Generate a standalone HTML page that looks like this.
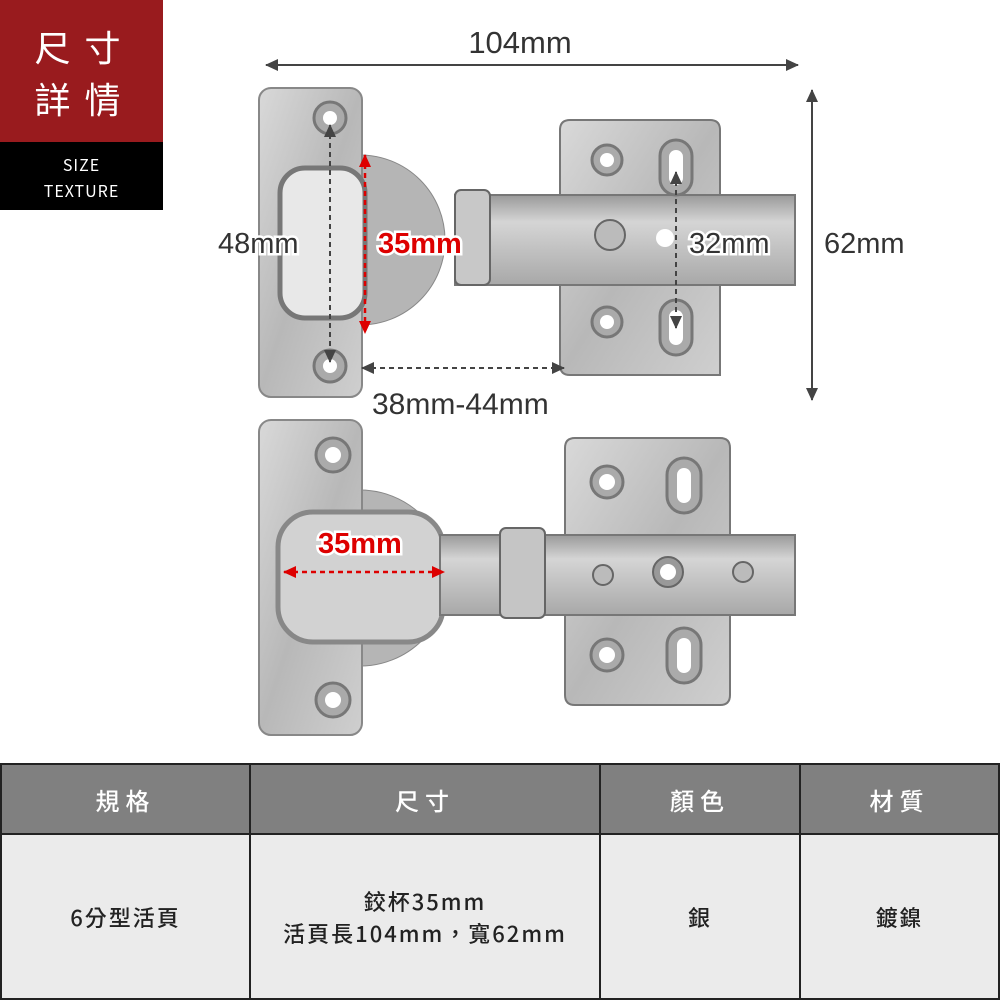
<!DOCTYPE html>
<html><head><meta charset="utf-8"><style>
body{margin:0;width:1000px;height:1000px;background:#fff;position:relative;overflow:hidden;font-family:"Liberation Sans","Noto Sans CJK TC",sans-serif}
.red{position:absolute;left:0;top:0;width:163px;height:142px;background:#991b1e;color:#fff;font-size:36px;line-height:52px;text-align:center;padding-top:20px;padding-left:6px;box-sizing:border-box;letter-spacing:14px;font-family:"Noto Sans CJK TC",sans-serif}
.blk{position:absolute;left:0;top:142px;width:163px;height:68px;background:#000;color:#fff;font-size:16px;line-height:26px;text-align:center;padding-top:9px;box-sizing:border-box;letter-spacing:1px;font-family:"Noto Sans CJK TC",sans-serif}
table{position:absolute;left:0;top:763px;width:1000px;height:237px;border-collapse:collapse;table-layout:fixed;font-family:"Noto Sans CJK TC",sans-serif}
td{border:2px solid #222;text-align:center;font-size:22px;color:#222;letter-spacing:2px;font-weight:500}
tr.h td{background:#808080;color:#fff;height:66px;font-size:24px;letter-spacing:6px}
tr.b td{background:#ebebeb}
</style></head><body>
<div class="red">尺寸<br>詳情</div>
<div class="blk">SIZE<br>TEXTURE</div>
<svg width="1000" height="760" style="position:absolute;left:0;top:0" font-family="Liberation Sans, Noto Sans CJK TC, sans-serif">
<defs>
<linearGradient id="m" x1="0" y1="0" x2="1" y2="1"><stop offset="0" stop-color="#d9d9d9"/><stop offset=".5" stop-color="#b8b8b8"/><stop offset="1" stop-color="#cfcfcf"/></linearGradient>
<linearGradient id="a" x1="0" y1="0" x2="0" y2="1"><stop offset="0" stop-color="#9a9a9a"/><stop offset=".3" stop-color="#d5d5d5"/><stop offset="1" stop-color="#a8a8a8"/></linearGradient>
<marker id="ah" markerUnits="userSpaceOnUse" markerWidth="14" markerHeight="14" refX="12" refY="7" orient="auto-start-reverse"><path d="M0,1 L13,7 L0,13 Z" fill="#444"/></marker>
<marker id="ar" markerUnits="userSpaceOnUse" markerWidth="14" markerHeight="14" refX="12" refY="7" orient="auto-start-reverse"><path d="M0,1 L13,7 L0,13 Z" fill="#d00"/></marker>
</defs>
<line x1="266" y1="65" x2="798" y2="65" stroke="#444" stroke-width="2" marker-start="url(#ah)" marker-end="url(#ah)"/>
<text x="520" y="53" font-size="31" fill="#333" text-anchor="middle">104mm</text>
<line x1="812" y1="90" x2="812" y2="400" stroke="#444" stroke-width="2" marker-start="url(#ah)" marker-end="url(#ah)"/>
<!-- hinge 1 -->
<circle cx="360" cy="240" r="85" fill="#b5b5b5" stroke="#888"/>
<rect x="259" y="88" width="103" height="309" rx="12" fill="url(#m)" stroke="#888" stroke-width="2"/>
<rect x="280" y="168" width="85" height="150" rx="25" fill="#e8e8e8" stroke="#777" stroke-width="5"/>
<circle cx="330" cy="118" r="16" fill="#aaa" stroke="#777" stroke-width="3"/><circle cx="330" cy="118" r="7" fill="#fff"/>
<circle cx="330" cy="366" r="16" fill="#aaa" stroke="#777" stroke-width="3"/><circle cx="330" cy="366" r="7" fill="#fff"/>
<path d="M560,130 q0,-10 10,-10 h140 q10,0 10,10 v245 h-150 q-10,0 -10,-10 z" fill="url(#m)" stroke="#777" stroke-width="2"/>
<rect x="455" y="195" width="340" height="90" fill="url(#a)" stroke="#777" stroke-width="2"/>
<rect x="455" y="190" width="35" height="95" rx="6" fill="#c8c8c8" stroke="#666" stroke-width="2"/>
<circle cx="607" cy="160" r="15" fill="#aaa" stroke="#777" stroke-width="3"/><circle cx="607" cy="160" r="7" fill="#fff"/>
<circle cx="607" cy="322" r="15" fill="#aaa" stroke="#777" stroke-width="3"/><circle cx="607" cy="322" r="7" fill="#fff"/>
<rect x="660" y="140" width="32" height="55" rx="16" fill="#aaa" stroke="#777" stroke-width="3"/><rect x="669" y="150" width="14" height="35" rx="7" fill="#fff"/>
<rect x="660" y="300" width="32" height="55" rx="16" fill="#aaa" stroke="#777" stroke-width="3"/><rect x="669" y="310" width="14" height="35" rx="7" fill="#fff"/>
<circle cx="610" cy="235" r="15" fill="#bbb" stroke="#666" stroke-width="2"/>
<circle cx="665" cy="238" r="9" fill="#fff"/>
<line x1="330" y1="125" x2="330" y2="362" stroke="#444" stroke-width="2" stroke-dasharray="5,4" marker-start="url(#ah)" marker-end="url(#ah)"/>
<line x1="365" y1="155" x2="365" y2="333" stroke="#d00" stroke-width="2.5" stroke-dasharray="5,4" marker-start="url(#ar)" marker-end="url(#ar)"/>
<line x1="676" y1="172" x2="676" y2="328" stroke="#444" stroke-width="2" stroke-dasharray="5,4" marker-start="url(#ah)" marker-end="url(#ah)"/>
<line x1="362" y1="368" x2="564" y2="368" stroke="#444" stroke-width="2" stroke-dasharray="5,4" marker-start="url(#ah)" marker-end="url(#ah)"/>
<g font-size="29" stroke="#fff" stroke-width="5" paint-order="stroke">
<text x="218" y="253" fill="#333">48mm</text>
<text x="378" y="253" fill="#d00" font-weight="bold">35mm</text>
<text x="689" y="253" fill="#333">32mm</text>
</g>
<text x="824" y="253" font-size="29" fill="#333">62mm</text>
<text x="372" y="414" font-size="30" fill="#333">38mm-44mm</text>
<!-- hinge 2 -->
<circle cx="360" cy="578" r="88" fill="#b5b5b5" stroke="#888"/>
<rect x="259" y="420" width="103" height="315" rx="12" fill="url(#m)" stroke="#888" stroke-width="2"/>
<rect x="278" y="512" width="165" height="130" rx="35" fill="#d2d2d2" stroke="#888" stroke-width="5"/>
<circle cx="333" cy="455" r="17" fill="#aaa" stroke="#777" stroke-width="3"/><circle cx="333" cy="455" r="8" fill="#fff"/>
<circle cx="333" cy="700" r="17" fill="#aaa" stroke="#777" stroke-width="3"/><circle cx="333" cy="700" r="8" fill="#fff"/>
<path d="M565,448 q0,-10 10,-10 h145 q10,0 10,10 v247 q0,10 -10,10 h-145 q-10,0 -10,-10 z" fill="url(#m)" stroke="#777" stroke-width="2"/>
<rect x="440" y="535" width="355" height="80" fill="url(#a)" stroke="#777" stroke-width="2"/>
<rect x="500" y="528" width="45" height="90" rx="6" fill="#c5c5c5" stroke="#666" stroke-width="2"/>
<circle cx="607" cy="482" r="16" fill="#aaa" stroke="#777" stroke-width="3"/><circle cx="607" cy="482" r="8" fill="#fff"/>
<circle cx="607" cy="655" r="16" fill="#aaa" stroke="#777" stroke-width="3"/><circle cx="607" cy="655" r="8" fill="#fff"/>
<rect x="667" y="458" width="34" height="55" rx="17" fill="#aaa" stroke="#777" stroke-width="3"/><rect x="677" y="468" width="14" height="35" rx="7" fill="#fff"/>
<rect x="667" y="628" width="34" height="55" rx="17" fill="#aaa" stroke="#777" stroke-width="3"/><rect x="677" y="638" width="14" height="35" rx="7" fill="#fff"/>
<circle cx="668" cy="572" r="15" fill="#999" stroke="#666" stroke-width="2"/><circle cx="668" cy="572" r="8" fill="#fff"/>
<circle cx="603" cy="575" r="10" fill="#bbb" stroke="#666" stroke-width="2"/>
<circle cx="743" cy="572" r="10" fill="#bbb" stroke="#666" stroke-width="2"/>
<line x1="284" y1="572" x2="444" y2="572" stroke="#d00" stroke-width="2.5" stroke-dasharray="5,4" marker-start="url(#ar)" marker-end="url(#ar)"/>
<text x="318" y="553" font-size="29" fill="#d00" font-weight="bold" stroke="#fff" stroke-width="5" paint-order="stroke">35mm</text>
</svg>
<table>
<colgroup><col style="width:249px"><col style="width:350px"><col style="width:200px"><col></colgroup>
<tr class="h"><td>規格</td><td>尺寸</td><td>顏色</td><td>材質</td></tr>
<tr class="b"><td>6分型活頁</td><td style="line-height:32px">鉸杯35mm<br>活頁長104mm，寬62mm</td><td>銀</td><td>鍍鎳</td></tr>
</table>
</body></html>
